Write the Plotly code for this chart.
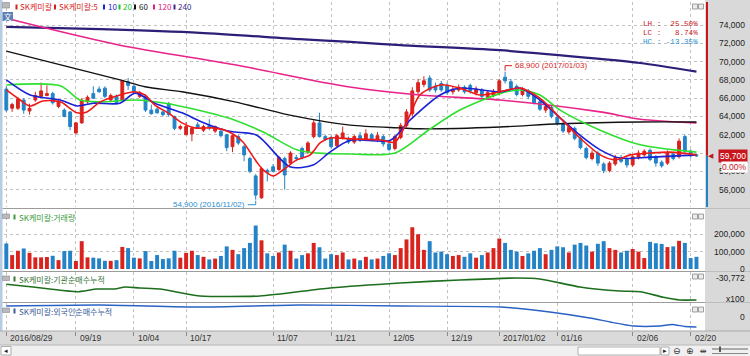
import plotly.graph_objects as go
import pandas as pd

W, H = 750, 356

# ---------------- data ----------------
holidays = ["2016-09-14", "2016-09-15", "2016-09-16", "2016-10-03",
            "2016-12-30", "2017-01-27", "2017-01-30"]
dates = [d for d in pd.bdate_range("2016-08-29", "2017-02-21")
         if d.strftime("%Y-%m-%d") not in holidays]

opens = [
    67000, 64900, 64900, 65800, 64600, 65800, 66200, 66300, 66500, 65100,
    64700, 64500, 62200, 63300, 65600, 66500, 67000, 67100, 65800, 66200,
    65800, 67800, 67300, 66200, 66200, 64700, 64800, 64500, 65400, 64000,
    62700, 62000, 62100, 63100, 62500, 63000, 62400, 62400, 62000, 60700,
    61800, 60700, 59400, 57500, 55100, 58100, 58500, 58200, 59400, 58900,
    59500, 60500, 60100, 61800, 63300, 61800, 61700, 60800, 61600, 61600,
    61200, 61900, 61400, 62000, 61500, 61800, 61000, 60500, 61700, 63000,
    64300, 66700, 67500, 68200, 67300, 67600, 67400, 66700, 66900, 67200,
    67400, 66600, 66900, 66100, 66300, 66500, 68300, 67800, 67300, 66400,
    66800, 66300, 65600, 64700, 65000, 63900, 63200, 62300, 62700, 61600,
    60500, 59400, 60000, 58800, 58100, 58800, 59500, 59300, 58700, 59500,
    59800, 60300, 59600, 59000, 58900, 59900, 59600, 61800, 60200, 59800,
]
highs = [
    67300, 65500, 66100, 66000, 65400, 66700, 67700, 67400, 66700, 65800,
    64900, 64600, 63400, 66000, 66300, 67300, 67300, 67300, 66500, 66400,
    68000, 68200, 67500, 66800, 66400, 65300, 65000, 64700, 65600, 64100,
    63100, 63400, 62900, 63400, 63100, 63700, 63000, 62500, 62100, 62000,
    62000, 60900, 59600, 57700, 58500, 58300, 58800, 59700, 59600, 60200,
    59800, 60700, 61300, 63600, 64400, 62000, 61900, 62100, 62900, 61800,
    62000, 62300, 62600, 62200, 62300, 62000, 61200, 62000, 63300, 64800,
    67200, 68100, 68400, 68500, 67700, 67900, 67700, 67300, 67500, 67400,
    67600, 67300, 67100, 66900, 67000, 68100, 68900, 68100, 67500, 67200,
    67000, 66500, 65800, 65400, 65200, 64100, 63400, 63100, 62900, 61800,
    60700, 60300, 60200, 59000, 59100, 59800, 59800, 59500, 59900, 60300,
    60400, 60500, 59800, 59200, 60300, 60100, 61600, 62000, 60400, 59900,
]
lows = [
    64500, 64500, 64700, 64300, 64200, 65600, 66000, 66200, 65300, 64900,
    63900, 62500, 62100, 63200, 65400, 65900, 66600, 66000, 65600, 65300,
    65700, 66900, 66500, 66000, 64500, 64200, 64300, 64000, 64000, 62500,
    62500, 62000, 61300, 62700, 62300, 62500, 62200, 61700, 60200, 60100,
    60900, 59100, 57800, 54900, 55000, 56900, 57900, 58000, 56000, 58700,
    59100, 59300, 59900, 61600, 61700, 61300, 60500, 60600, 61500, 61000,
    61000, 61200, 61300, 61300, 61200, 60700, 60200, 60300, 61500, 62800,
    64000, 66400, 67200, 66700, 66600, 66700, 66400, 66400, 66700, 66500,
    66500, 66300, 66000, 65900, 66100, 66300, 67600, 66900, 66200, 66200,
    65900, 65300, 64600, 64400, 63800, 63000, 62200, 62100, 61400, 60400,
    59300, 59200, 58600, 57800, 57900, 58600, 58900, 58400, 58500, 59300,
    59600, 59100, 58500, 58400, 58700, 59200, 59400, 60000, 59500, 59600,
]
closes = [
    64700, 65300, 65900, 64700, 64900, 66300, 66800, 66500, 65500, 65600,
    64000, 62900, 63300, 65800, 66100, 66000, 66700, 66200, 66300, 65500,
    67900, 67400, 66700, 66600, 64700, 64300, 64400, 64200, 64200, 62700,
    62900, 62900, 62700, 62800, 62900, 62800, 62900, 61900, 60600, 61900,
    61100, 59800, 58000, 55400, 58300, 57900, 58000, 59500, 57600, 60000,
    59400, 59500, 61100, 63300, 61800, 61500, 60700, 61900, 62200, 61200,
    61800, 61400, 62100, 61600, 61900, 61000, 60400, 61800, 63000, 64500,
    66800, 67700, 67900, 66900, 66900, 66900, 66600, 67000, 67200, 66700,
    66800, 67000, 66200, 66600, 66700, 67900, 67900, 67100, 66400, 66900,
    66200, 65500, 64800, 65100, 64000, 63200, 62400, 62800, 61600, 60600,
    59500, 60000, 58900, 58100, 58900, 59500, 59100, 58700, 59600, 60000,
    60200, 59300, 58900, 58600, 60000, 59400, 61300, 60200, 59700, 59700,
]
volumes = [
    147000, 80000, 105000, 118000, 93000, 67000, 67000, 69000, 76000, 51000,
    103000, 105000, 46000, 160000, 67000, 65000, 61000, 47000, 47000, 51000,
    127000, 120000, 65000, 61000, 103000, 46000, 80000, 57000, 61000, 105000,
    65000, 93000, 105000, 80000, 70000, 55000, 60000, 75000, 130000, 110000,
    85000, 120000, 150000, 250000, 165000, 90000, 75000, 95000, 140000, 105000,
    60000, 80000, 90000, 150000, 125000, 60000, 85000, 80000, 95000, 55000,
    60000, 50000, 70000, 55000, 60000, 75000, 90000, 80000, 120000, 170000,
    240000, 200000, 110000, 160000, 95000, 100000, 85000, 75000, 80000, 70000,
    90000, 65000, 80000, 95000, 120000, 175000, 150000, 110000, 100000, 75000,
    90000, 105000, 120000, 85000, 110000, 130000, 125000, 95000, 140000, 150000,
    135000, 100000, 145000, 160000, 120000, 110000, 95000, 105000, 115000, 100000,
    63000, 156000, 148000, 144000, 126000, 130000, 162000, 150000, 63000, 70000,
]

# moving-average lines (candle index, price)
ma5_idx = [0, 2.4, 4.1, 6.3, 9.3, 12.2, 13.9, 16.2, 19.6, 22.2, 23.9, 25.6, 27.9, 30.3,
           32.5, 35.5, 37.7, 39.4, 40.8, 43.2, 44.3, 46, 47.7, 50.1, 52.4, 54.1, 55.8,
           59.3, 64.4, 67, 69.6, 71.3, 74.8, 78.2, 81.6, 85.1, 88.6, 92, 95.5, 98.9,
           102.4, 105, 107.6, 111, 114.4, 119]
ma5_val = [66900, 65800, 65150, 65700, 65600, 64400, 64500, 65600, 66350, 66700, 66350,
           65250, 64400, 63300, 62750, 62750, 62500, 61950, 61200, 59000, 58150, 57500,
           58150, 59250, 59800, 61100, 61650, 61550, 61450, 61200, 64150, 66350, 67450,
           67100, 66350, 66700, 67100, 66000, 63850, 61650, 59800, 59250, 59800, 60000,
           60100, 59800]
ma10_idx = [0, 4.1, 9.3, 12.2, 15, 19.6, 22.2, 25.6, 30.3, 33.7, 37.7, 39.4, 43.2, 48.9,
            52.9, 55.8, 59.3, 66.2, 69.6, 74.8, 78.2, 85.1, 88.6, 92, 95.5, 98.9, 102.4,
            105.8, 111, 119]
ma10_val = [68000, 66350, 65800, 65150, 65450, 65450, 66550, 65450, 64400, 63400, 62500,
            62300, 61950, 58500, 58700, 60100, 61400, 61400, 63600, 66350, 67100, 66700,
            67100, 65800, 63850, 61950, 60350, 59450, 59550, 59800]
ma20_idx = [0, 9.3, 12.7, 16.2, 22.2, 27.4, 33, 39.4, 44.3, 50.1, 53.6, 59.3, 67, 73,
            78.2, 85.1, 88.6, 92, 95.5, 102.4, 109.3, 119]
ma20_val = [67450, 67350, 65800, 65600, 65800, 65450, 64700, 63600, 62300, 60350, 60000,
            59900, 60000, 62600, 64700, 66500, 66900, 66350, 64700, 62500, 60900, 60100]
ma60_idx = [0, 19.6, 23.9, 30.3, 39.4, 48.9, 59.3, 68, 71.4, 85.1, 95.5, 109.3, 119]
ma60_val = [71150, 68000, 67250, 66700, 65600, 64150, 63050, 62750, 62650, 62850, 63200,
            63400, 63400]
ma120_idx = [0, 1.2, 19.6, 39.4, 58.9, 71.3, 85.1, 102.4, 109.3, 119]
ma120_val = [74750, 74550, 71800, 69650, 67250, 66350, 65800, 64500, 63700, 63300]
ma240_idx = [0, 16.2, 33.4, 50.6, 59.3, 68, 85.1, 102.4, 109.3, 119]
ma240_val = [73800, 73550, 73150, 72450, 72150, 71800, 71250, 70300, 69850, 68900]

# cumulative institutional / foreign net buying (x100 shares)
inst_idx = [0, 4.6, 7.5, 12.2, 15.6, 18.7, 20.5, 23, 26.5, 30, 33.4, 43.7, 55.8, 67.9,
            78.2, 88, 92, 98.9, 105.8, 109.3, 113.3, 116.1, 119]
inst_val = [-32660, -33470, -34070, -34880, -34070, -34070, -33470, -33770, -34070,
            -35180, -36170, -36170, -33770, -32270, -31370, -30772, -31070, -33470,
            -34670, -34880, -36560, -37370, -37370]
frgn_idx = [0, 16.2, 33.4, 50.6, 67.9, 85.1, 93.7, 100.6, 104.1, 108.1, 112.7, 114.8,
            117, 119]
frgn_val = [10700, 11700, 9700, 11700, 10700, 9700, 4700, -1300, -5300, -9300, -9300,
            -7800, -9800, -10300]

tick_idx = [0, 12, 22, 31, 46, 56, 66, 76, 85, 95, 108, 118]
price_ticks = [56000, 58000, 60000, 62000, 64000, 66000, 68000, 70000, 72000, 74000]
vol_ticks = [0, 100000, 200000]

# ---------------- styles ----------------
UP = "#d8231f"
DN = "#2383c6"
GRID = "#c2c2c2"
KFONT = "Noto Sans CJK KR"
NFONT = "Liberation Sans"


def px(x):
    return x / W


def py(y):
    return 1 - y / H


n = len(closes)
xs = list(range(n))

fig = go.Figure()

# MA lines
for idx, val, col, wd in [
    (ma240_idx, ma240_val, "#2c1f78", 2.2),
    (ma120_idx, ma120_val, "#e8238a", 1.6),
    (ma60_idx, ma60_val, "#111111", 1.4),
    (ma20_idx, ma20_val, "#2ee02e", 1.6),
    (ma10_idx, ma10_val, "#1a22d8", 1.6),
    (ma5_idx, ma5_val, "#ee1a1a", 1.6),
]:
    fig.add_trace(go.Scatter(x=idx, y=val, mode="lines",
                             line=dict(color=col, width=wd, shape="spline", smoothing=0.8),
                             xaxis="x", yaxis="y", hoverinfo="skip", showlegend=False))

fig.add_trace(go.Candlestick(
    x=xs, open=opens, high=highs, low=lows, close=closes,
    increasing=dict(line=dict(color=UP, width=1), fillcolor=UP),
    decreasing=dict(line=dict(color=DN, width=1), fillcolor=DN),
    whiskerwidth=0, xaxis="x", yaxis="y", hoverinfo="skip", showlegend=False))

vol_colors = [UP if c >= o else DN for o, c in zip(opens, closes)]
fig.add_trace(go.Bar(x=xs, y=volumes, marker=dict(color=vol_colors, line=dict(width=0)),
                     width=0.68, xaxis="x2", yaxis="y2", hoverinfo="skip", showlegend=False))

fig.add_trace(go.Scatter(x=inst_idx, y=inst_val, mode="lines",
                         line=dict(color="#1d6e1d", width=1.6, shape="spline", smoothing=0.6),
                         xaxis="x3", yaxis="y3", hoverinfo="skip", showlegend=False))
fig.add_trace(go.Scatter(x=frgn_idx, y=frgn_val, mode="lines",
                         line=dict(color="#2a62c4", width=1.4, shape="spline", smoothing=0.6),
                         xaxis="x4", yaxis="y4", hoverinfo="skip", showlegend=False))

XR = [-0.4, 120.3]
XD = [px(4), px(704)]
xcommon = dict(range=XR, domain=XD, showticklabels=False, tickvals=tick_idx,
               showgrid=True, gridcolor=GRID, griddash="dot", gridwidth=1,
               zeroline=False, showline=False, fixedrange=True)

PR = [54100, 76520]
layout = dict(
    width=W, height=H, margin=dict(l=0, r=0, t=0, b=0),
    paper_bgcolor="white", plot_bgcolor="white",
    font=dict(family=NFONT, size=9, color="#222"),
    showlegend=False, bargap=0.3,
    xaxis=dict(**xcommon, anchor="y", rangeslider=dict(visible=False)),
    xaxis2=dict(**xcommon, anchor="y2", matches="x"),
    xaxis3=dict(**xcommon, anchor="y3", matches="x"),
    xaxis4=dict(**xcommon, anchor="y4", matches="x", ticks="outside", ticklen=4,
                tickcolor="#8a8a8a"),
    yaxis=dict(domain=[py(207), py(2)], range=PR, tickvals=price_ticks,
               showticklabels=False, showgrid=True, gridcolor=GRID, griddash="dot",
               zeroline=False, fixedrange=True, anchor="x"),
    yaxis2=dict(domain=[py(270), py(211)], range=[-5750, 333400], tickvals=vol_ticks[1:],
                showticklabels=False, showgrid=True, gridcolor=GRID, griddash="dot",
                zeroline=False, fixedrange=True, anchor="x2"),
    yaxis3=dict(domain=[py(302), py(272)], range=[-37972, -28972], showticklabels=False,
                showgrid=False, zeroline=False, fixedrange=True, anchor="x3"),
    yaxis4=dict(domain=[py(331), py(303)], range=[-14300, 13700], showticklabels=False,
                showgrid=False, zeroline=False, fixedrange=True, anchor="x4"),
)
fig.update_layout(**layout)

shapes = []
ann = []


def rect(x0, y0, x1, y1, fill, line=None, lw=0, layer="above"):
    shapes.append(dict(type="rect", xref="paper", yref="paper", x0=px(x0), x1=px(x1),
                       y0=py(y1), y1=py(y0), fillcolor=fill, layer=layer,
                       line=dict(color=line or fill, width=lw)))


def hline(x0, x1, y, col, w=1):
    shapes.append(dict(type="line", xref="paper", yref="paper", x0=px(x0), x1=px(x1),
                       y0=py(y), y1=py(y), line=dict(color=col, width=w)))


def text(x, y, s, col="#222", size=8.5, fam=NFONT, anchor="left", **kw):
    ann.append(dict(xref="paper", yref="paper", x=px(x), y=py(y), text=s, showarrow=False,
                    xanchor=anchor, yanchor="middle", font=dict(color=col, size=size, family=fam),
                    **kw))


# background frames
rect(705, 0, 750, 331, "#d9d9d9", layer="below")
rect(0, 331, 750, 345, "#dadada", layer="below")
rect(0, 345, 750, 356, "#f0f0f0", layer="below")
rect(0, 0, 2.5, 331, "#b7cbe3")
hline(0, 750, 331, "#a8a8a8")
hline(0, 750, 345, "#b8b8b8")
for yy in (208.5, 271.5, 302.5):
    hline(2.5, 705, yy, "#9c9c9c")
    rect(705, yy - 0.5, 750, yy + 0.5, "#bdbdbd")

# panel buttons
for top in (4, 214, 274, 307):
    rect(692.5, top, 697.5, top + 5, "#ececec", "#8c8c8c", 0.8)
    rect(698.5, top, 703.5, top + 5, "#ececec", "#8c8c8c", 0.8)

# current price bar at right edge of price panel
last = closes[-1]
shapes.append(dict(type="line", xref="paper", yref="y", x0=px(707), x1=px(707),
                   y0=last, y1=PR[1], line=dict(color="#c8161e", width=2)))
shapes.append(dict(type="line", xref="paper", yref="y", x0=px(707), x1=px(707),
                   y0=PR[0], y1=last, line=dict(color="#2383c6", width=2)))

# top-left icons and legend
rect(2.5, 2.5, 9.5, 8, "#b9b9b9", "#8a8a8a", 0.6)
rect(2.5, 12, 13, 21, "#5f80b4")
text(7.8, 16.5, "文", "white", 7.5, KFONT, "center")
legend_items = [(15.5, "SK케미칼", "#d81e1e"), (54, "SK케미칼:5", "#d81e1e"),
                (103, "10", "#1a22d8"), (118.5, "20", "#22c022"), (134, "60", "#111111"),
                (153, "120", "#e0207e"), (173.5, "240", "#3a2a8a")]
for x0, s, col in legend_items:
    rect(x0, 4.5, x0 + 2, 9.5, col)
    text(x0 + 2.8, 7, s, col, 8, KFONT)

# panel titles
for ytop, s, col in [(217, "SK케미칼:거래량", "#3a9a3a"),
                     (279, "SK케미칼:기관순매수누적", "#3b733b"),
                     (311, "SK케미칼:외국인순매수누적", "#3a5a98")]:
    rect(2.5, ytop - 3, 9.5, ytop + 1.5, "#b9b9b9", "#8a8a8a", 0.6)
    rect(13.5, ytop - 2.5, 15.5, ytop + 2.5, col)
    text(16.5, ytop, s, col, 8, KFONT)

# LH / LC / HC
hi = max(highs)
lo = min(lows)
lh = (hi - lo) / lo * 100
lc = (last - lo) / lo * 100
hc = (last - hi) / hi * 100
for yy, lab, v, col in [(24, "LH :", lh, "#c8201e"), (33, "LC :", lc, "#c8201e"),
                        (42, "HC :", hc, "#2a8fd0")]:
    s = (lab + "{:7.2f}%".format(v)).replace(" ", "\u00a0")
    text(700, yy, s, col, 7.6, "Liberation Mono", "right")

# right axis labels
for v in price_ticks:
    if v == 60000:
        continue
    ann.append(dict(xref="paper", yref="y", x=px(747), y=v, text="{:,}".format(v),
                    showarrow=False, xanchor="right", yanchor="middle",
                    font=dict(size=8.5, color="#222")))
for v in vol_ticks:
    ann.append(dict(xref="paper", yref="y2", x=px(747), y=v, text="{:,}".format(v),
                    showarrow=False, xanchor="right", yanchor="middle",
                    font=dict(size=8.5, color="#222")))
inst_top = max(inst_val)
ann.append(dict(xref="paper", yref="y3", x=px(747), y=inst_top, text="{:,}".format(inst_top),
                showarrow=False, xanchor="right", yanchor="middle",
                font=dict(size=8.5, color="#222")))
text(747, 299, "x100", "#222", 8.5, NFONT, "right")
ann.append(dict(xref="paper", yref="y4", x=px(747), y=0, text="0",
                showarrow=False, xanchor="right", yanchor="middle",
                font=dict(size=8.5, color="#222")))

# current price tag
chg = (closes[-1] - closes[-2]) / closes[-2] * 100
ann.append(dict(xref="paper", yref="y", x=px(748), y=last, text="{:,}".format(last),
                showarrow=False, xanchor="right", yanchor="middle", bgcolor="#c8161e",
                borderpad=1, font=dict(size=8.5, color="white")))
ann.append(dict(xref="paper", yref="y", x=px(748), y=last, yshift=-11,
                text="{:.2f}%".format(chg), showarrow=False, xanchor="right",
                yanchor="middle", bgcolor="white", borderpad=0,
                font=dict(size=8.5, color="#c8161e")))
ann.append(dict(xref="paper", yref="y", x=px(711), y=last, text="◀", showarrow=False,
                xanchor="center", yanchor="middle",
                font=dict(size=7, color="#c8161e", family="DejaVu Sans")))

# high / low markers
ihi = highs.index(hi)
ilo = lows.index(lo)
for (ix, val, dy, dx, col, anchor) in [(ihi, hi, 6, 7, "#d81e1e", "left"),
                                       (ilo, lo, -5, -8, "#2a8fd0", "right")]:
    shapes.append(dict(type="line", xref="x", yref="y", xsizemode="pixel", ysizemode="pixel",
                       xanchor=ix, yanchor=val, x0=0, x1=0, y0=(1 if dy > 0 else -1), y1=dy,
                       line=dict(color=col, width=1)))
    shapes.append(dict(type="line", xref="x", yref="y", xsizemode="pixel", ysizemode="pixel",
                       xanchor=ix, yanchor=val, x0=0, x1=dx, y0=dy, y1=dy,
                       line=dict(color=col, width=1)))
    ann.append(dict(xref="x", yref="y", x=ix, y=val, xshift=dx + (1 if dx > 0 else -1),
                    yshift=dy, text="{:,} ({})".format(val, dates[ix].strftime("%Y/%m/%d")),
                    showarrow=False, xanchor=anchor, yanchor="middle",
                    font=dict(size=8, color=col, family=NFONT)))

# date labels
prev_year = None
for t in tick_idx:
    d = dates[t]
    lab = d.strftime("%Y/%m/%d") if d.year != prev_year else d.strftime("%m/%d")
    prev_year = d.year
    ann.append(dict(xref="x4", yref="paper", x=t, y=py(338), text=lab, showarrow=False,
                    xanchor="left", yanchor="middle", xshift=2,
                    font=dict(size=8.5, color="#333")))

# bottom toolbar
rect(1, 346.5, 11, 355, "#ffffff", "#9a9a9a", 0.8)
text(6, 351, "◂", "#222", 7, "DejaVu Sans", "center")
rect(578, 347, 660, 355, "#ffffff", "#a0a0a0", 0.8)
rect(661, 347, 669, 355, "#ffffff", "#9a9a9a", 0.8)
text(665, 351, "▸", "#222", 7, "DejaVu Sans", "center")
text(677, 351, "⊖", "#333", 9, "DejaVu Sans", "center")
text(690, 351, "⊕", "#333", 9, "DejaVu Sans", "center")
text(703, 351, "⇹", "#333", 8, "DejaVu Sans", "center")
hline(712, 748, 349, "#666")
rect(719, 346.5, 721, 352, "#555")
hline(712, 748, 353.5, "#888")

fig.update_layout(shapes=shapes, annotations=ann)
fig.write_html("out.html", config={"displayModeBar": False},
               post_script="document.body.style.margin='0';"
                           "document.body.style.overflow='hidden';")
